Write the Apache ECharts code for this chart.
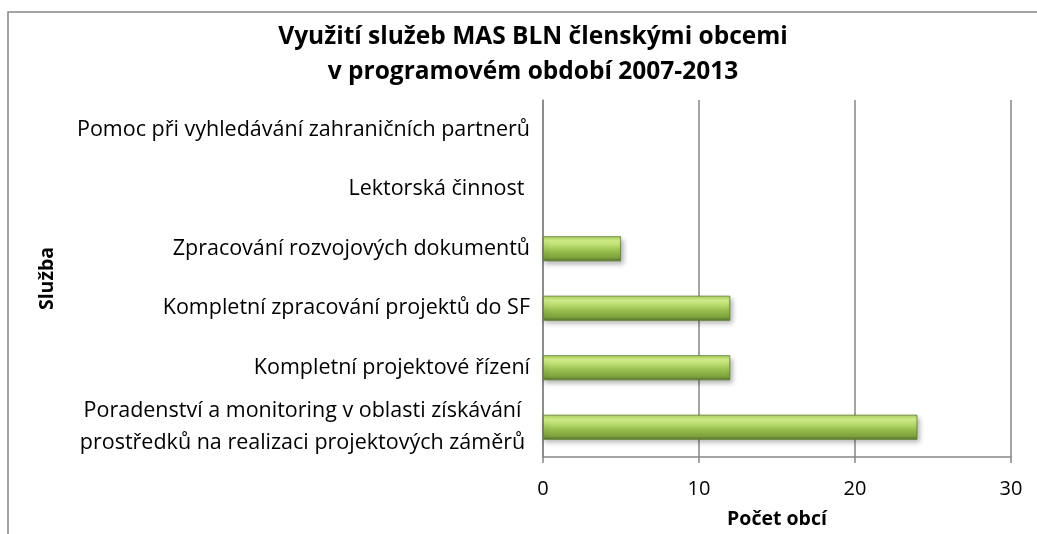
<!DOCTYPE html>
<html>
<head>
<meta charset="utf-8">
<script src="https://cdn.jsdelivr.net/npm/echarts@6/dist/echarts.min.js"></script>
<style>
html,body{margin:0;padding:0;background:#fff;}
#c{width:1037px;height:534px;}
</style>
</head>
<body>
<div id="c"></div>
<script>
var titleLines = ['Využití služeb MAS BLN členskými obcemi', 'v programovém období 2007-2013'];
var categories = [
  'Poradenství a monitoring v oblasti získávání\nprostředků na realizaci projektových záměrů',
  'Kompletní projektové řízení',
  'Kompletní zpracování projektů do SF',
  'Zpracování rozvojových dokumentů',
  'Lektorská činnost ',
  'Pomoc při vyhledávání zahraničních partnerů'
];
var values = [24, 12, 12, 5, 0, 0];
var xTicks = { min: 0, max: 30, interval: 10 };
var xName = 'Počet obcí';
var yName = 'Služba';

var FONT = '"Open Sans", Lato, sans-serif';
var chart = echarts.init(document.getElementById('c'), null, {renderer: 'canvas'});
chart.setOption({
  animation: false,
  backgroundColor: '#fff',
  title: {
    text: titleLines.join('\n'),
    left: 528, top: 15, textAlign: 'center',
    textStyle: {fontFamily: FONT, fontSize: 24.5, fontWeight: 'bold', color: '#000', lineHeight: 35}
  },
  graphic: [{
    type: 'polyline',
    shape: {points: [[8, 534], [8, 12], [1037, 12]]},
    style: {stroke: '#868686', lineWidth: 1.5, fill: null},
    z: 0
  }],
  grid: {left: 543, right: 26, top: 100, bottom: 72},
  xAxis: {
    type: 'value', min: xTicks.min, max: xTicks.max, interval: xTicks.interval,
    name: xName, nameLocation: 'middle', nameGap: 52,
    nameTextStyle: {fontFamily: FONT, fontSize: 19.5, fontWeight: 'bold', color: '#000'},
    axisLine: {show: true, lineStyle: {color: '#868686', width: 1.5}},
    axisTick: {show: true, length: 6, lineStyle: {color: '#868686', width: 1.5}},
    axisLabel: {fontFamily: FONT, fontSize: 20, color: '#000', margin: 22},
    splitLine: {show: true, lineStyle: {color: '#868686', width: 1.5}}
  },
  yAxis: {
    type: 'category', data: categories,
    name: yName, nameLocation: 'middle', nameGap: 486, nameRotate: 90,
    nameTextStyle: {fontFamily: FONT, fontSize: 19.5, fontWeight: 'bold', color: '#000'},
    axisLine: {show: true, lineStyle: {color: '#868686', width: 1.5}},
    axisTick: {show: false},
    axisLabel: {
      fontFamily: FONT, fontSize: 21.5, color: '#000', margin: 13, lineHeight: 32,
      formatter: function (v) {
        if (v.indexOf('\n') >= 0) {
          return v.split('\n').map(function (l) { return '{c|' + l + '}'; }).join('\n');
        }
        return v;
      },
      rich: {c: {fontFamily: FONT, fontSize: 21.5, color: '#000', width: 455, align: 'center', lineHeight: 32}}
    }
  },
  series: [{
    type: 'bar', barWidth: 25,
    data: values.map(function (v) { return v === 0 ? {value: v, itemStyle: {opacity: 0}} : v; }),
    itemStyle: {
      color: new echarts.graphic.LinearGradient(0, 0, 0, 1, [
        {offset: 0, color: '#a9cf5a'},
        {offset: 0.18, color: '#d6f28e'},
        {offset: 0.4, color: '#b4d86a'},
        {offset: 0.6, color: '#97bd4d'},
        {offset: 0.85, color: '#7fa23e'},
        {offset: 1, color: '#56742a'}
      ]),
      borderColor: '#5f7d2e', borderWidth: 0.8,
      shadowColor: 'rgba(0,0,0,0.3)', shadowBlur: 5, shadowOffsetX: 2, shadowOffsetY: 3
    }
  }]
});
</script>
</body>
</html>
